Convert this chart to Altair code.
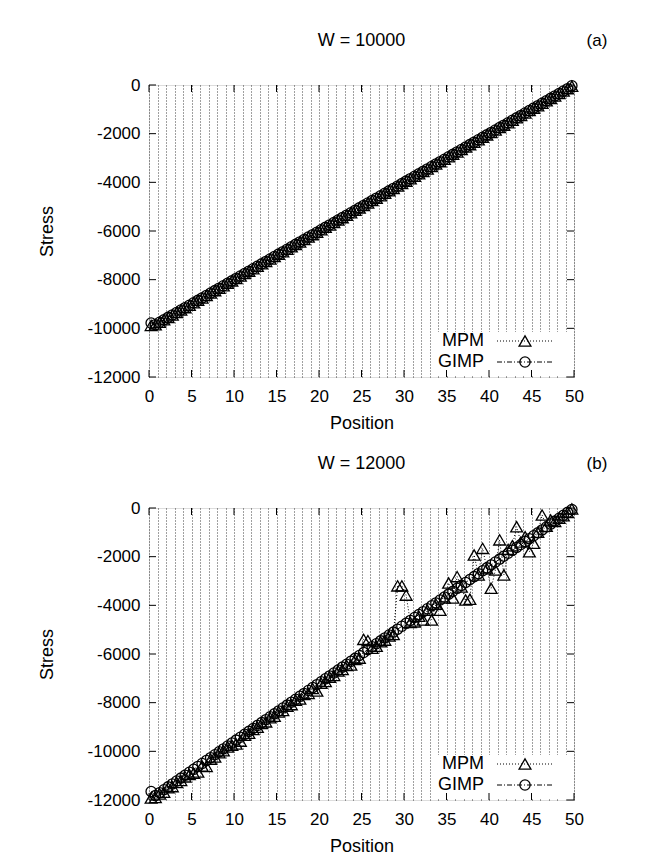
import altair as alt
import pandas as pd

positions = [0.25, 0.75, 1.25, 1.75, 2.25, 2.75, 3.25, 3.75, 4.25, 4.75,
             5.25, 5.75, 6.25, 6.75, 7.25, 7.75, 8.25, 8.75, 9.25, 9.75,
             10.25, 10.75, 11.25, 11.75, 12.25, 12.75, 13.25, 13.75, 14.25, 14.75,
             15.25, 15.75, 16.25, 16.75, 17.25, 17.75, 18.25, 18.75, 19.25, 19.75,
             20.25, 20.75, 21.25, 21.75, 22.25, 22.75, 23.25, 23.75, 24.25, 24.75,
             25.25, 25.75, 26.25, 26.75, 27.25, 27.75, 28.25, 28.75, 29.25, 29.75,
             30.25, 30.75, 31.25, 31.75, 32.25, 32.75, 33.25, 33.75, 34.25, 34.75,
             35.25, 35.75, 36.25, 36.75, 37.25, 37.75, 38.25, 38.75, 39.25, 39.75,
             40.25, 40.75, 41.25, 41.75, 42.25, 42.75, 43.25, 43.75, 44.25, 44.75,
             45.25, 45.75, 46.25, 46.75, 47.25, 47.75, 48.25, 48.75, 49.25, 49.75]

mpm_a = [-9880, -9850, -9750, -9650, -9550, -9450, -9350, -9250, -9150, -9050,
         -8950, -8850, -8750, -8650, -8550, -8450, -8350, -8250, -8150, -8050,
         -7950, -7850, -7750, -7650, -7550, -7450, -7350, -7250, -7150, -7050,
         -6950, -6850, -6750, -6650, -6550, -6450, -6350, -6250, -6150, -6050,
         -5950, -5850, -5750, -5650, -5550, -5450, -5350, -5250, -5150, -5050,
         -4950, -4850, -4750, -4650, -4550, -4450, -4350, -4250, -4150, -4050,
         -3950, -3850, -3750, -3650, -3550, -3450, -3350, -3250, -3150, -3050,
         -2950, -2850, -2750, -2650, -2550, -2450, -2350, -2250, -2150, -2050,
         -1950, -1850, -1750, -1650, -1550, -1450, -1350, -1250, -1150, -1050,
         -950, -850, -750, -650, -550, -450, -350, -250, -150, -50]

gimp_a = [-9780, -9850, -9750, -9650, -9550, -9450, -9350, -9250, -9150, -9050,
          -8950, -8850, -8750, -8650, -8550, -8450, -8350, -8250, -8150, -8050,
          -7950, -7850, -7750, -7650, -7550, -7450, -7350, -7250, -7150, -7050,
          -6950, -6850, -6750, -6650, -6550, -6450, -6350, -6250, -6150, -6050,
          -5950, -5850, -5750, -5650, -5550, -5450, -5350, -5250, -5150, -5050,
          -4950, -4850, -4750, -4650, -4550, -4450, -4350, -4250, -4150, -4050,
          -3950, -3850, -3750, -3650, -3550, -3450, -3350, -3250, -3150, -3050,
          -2950, -2850, -2750, -2650, -2550, -2450, -2350, -2250, -2150, -2050,
          -1950, -1850, -1750, -1650, -1550, -1450, -1350, -1250, -1150, -1050,
          -950, -850, -750, -650, -550, -450, -350, -250, -150, -30]

mpm_b = [-11920, -11900, -11750, -11680, -11500, -11450, -11280, -11200, -11050, -10950,
         -10900, -10850, -10600, -10620, -10320, -10230, -10060, -9980, -9820, -9750,
         -9700, -9580, -9340, -9260, -9100, -9010, -8860, -8790, -8620, -8560,
         -8380, -8320, -8150, -8080, -7900, -7850, -7660, -7620, -7420, -7520,
         -7200, -7130, -6950, -6880, -6700, -6640, -6470, -6450, -6230, -6170,
         -5400, -5450, -5760, -5680, -5500, -5430, -5260, -5200, -3200, -3200,
         -3580, -4700, -4680, -4450, -4600, -4200, -4600, -3950, -4200, -3700,
         -3080, -3700, -2820, -3250, -3780, -3750, -1930, -2750, -1660, -2500,
         -3300, -2550, -1310, -2750, -1700, -1550, -770, -1400, -1180, -1800,
         -1450, -1000, -290, -750, -490, -550, -420, -320, -180, -40]

gimp_b = [-11650, -11820, -11700, -11580, -11460, -11340, -11220, -11100, -10980, -10860,
          -10740, -10620, -10500, -10380, -10260, -10140, -10020, -9900, -9780, -9660,
          -9540, -9420, -9300, -9180, -9060, -8940, -8820, -8700, -8580, -8460,
          -8340, -8220, -8100, -7980, -7860, -7740, -7620, -7500, -7380, -7260,
          -7140, -7020, -6900, -6780, -6660, -6540, -6420, -6300, -6180, -6060,
          -5940, -5820, -5700, -5580, -5460, -5340, -5220, -5100, -4980, -4860,
          -4740, -4620, -4500, -4380, -4260, -4140, -4020, -3900, -3780, -3660,
          -3540, -3420, -3300, -3180, -3060, -2940, -2820, -2700, -2580, -2460,
          -2340, -2220, -2100, -1980, -1860, -1740, -1620, -1500, -1380, -1260,
          -1140, -1020, -900, -780, -660, -540, -420, -300, -180, -60]

y_ticks = [-12000, -10000, -8000, -6000, -4000, -2000, 0]
x_ticks = [0, 5, 10, 15, 20, 25, 30, 35, 40, 45, 50]
x_grid = list(range(0, 51))
legend_labels = ["MPM", "GIMP"]

FONT = "Liberation Sans"
W, H = 425, 292
LBL = 17
TTL = 18


def panel(mpm, gimp, title, tag):
    df = pd.DataFrame({
        "pos": positions + positions,
        "stress": mpm + gimp,
        "method": ["MPM"] * len(mpm) + ["GIMP"] * len(gimp),
    })
    xs = alt.Scale(domain=[0, 50], nice=False, zero=False)
    ys = alt.Scale(domain=[-12000, 0], nice=False, zero=False)
    xenc = alt.X("pos:Q", scale=xs, title="Position",
                 axis=alt.Axis(values=x_grid,
                               labelExpr="datum.value % 5 == 0 ? format(datum.value, 'd') : ''",
                               grid=True, gridDash=[1, 2], gridColor="#000000",
                               gridOpacity=0.75, gridWidth=1, tickSize=0, domain=False,
                               labelPadding=11, labelFontSize=LBL, labelFont=FONT,
                               labelColor="#000000", labelOverlap=False, labelFlush=False,
                               titleFont=FONT, titleFontSize=TTL, titleFontWeight="normal",
                               titleColor="#000000", titlePadding=10))
    yenc = alt.Y("stress:Q", scale=ys, title="Stress",
                 axis=alt.Axis(values=y_ticks, grid=False, tickSize=0, domain=False,
                               labelExpr="datum.value == 0 ? '0' : '-' + format(-datum.value, 'd')",
                               labelPadding=9, labelFontSize=LBL, labelFont=FONT,
                               labelColor="#000000", labelFlush=False, labelOverlap=False,
                               titleFont=FONT, titleFontSize=TTL, titleFontWeight="normal",
                               titleColor="#000000", titlePadding=31))

    base = alt.Chart(df)
    mpm_line = base.transform_filter("datum.method == 'MPM'").mark_line(
        color="#000000", strokeWidth=1, strokeDash=[1, 2]).encode(x=xenc, y=yenc)
    mpm_pts = base.transform_filter("datum.method == 'MPM'").mark_point(
        shape="triangle-up", filled=False, size=140, color="#000000",
        strokeWidth=1.3, opacity=1).encode(x=xenc, y=yenc)
    gimp_line = base.transform_filter("datum.method == 'GIMP'").mark_line(
        color="#000000", strokeWidth=1, strokeDash=[5, 2, 1, 2]).encode(x=xenc, y=yenc)
    gimp_pts = base.transform_filter("datum.method == 'GIMP'").mark_point(
        shape="circle", filled=False, size=105, color="#000000",
        strokeWidth=1.3, opacity=1).encode(x=xenc, y=yenc)

    ydf = pd.DataFrame({"stress": y_ticks})
    xdf = pd.DataFrame({"pos": x_ticks})
    tick_l = alt.Chart(ydf).mark_rule(color="#000000", strokeWidth=1).encode(
        y=yenc, x=alt.value(0), x2=alt.value(7))
    tick_r = alt.Chart(ydf).mark_rule(color="#000000", strokeWidth=1).encode(
        y=yenc, x=alt.value(W - 7), x2=alt.value(W))
    tick_t = alt.Chart(xdf).mark_rule(color="#000000", strokeWidth=1).encode(
        x=xenc, y=alt.value(0), y2=alt.value(7))
    tick_b = alt.Chart(xdf).mark_rule(color="#000000", strokeWidth=1).encode(
        x=xenc, y=alt.value(H - 7), y2=alt.value(H))

    one = pd.DataFrame({"label": [legend_labels[0]]})
    two = pd.DataFrame({"label": [legend_labels[1]]})
    box = alt.Chart(one).mark_rect(color="#ffffff").encode(
        x=alt.value(288), x2=alt.value(W - 1), y=alt.value(247), y2=alt.value(H - 1))
    t1 = alt.Chart(one).mark_text(align="right", baseline="middle", font=FONT,
                                  fontSize=TTL, color="#000000").encode(
        text="label:N", x=alt.value(335), y=alt.value(256))
    t2 = alt.Chart(two).mark_text(align="right", baseline="middle", font=FONT,
                                  fontSize=TTL, color="#000000").encode(
        text="label:N", x=alt.value(335), y=alt.value(277))
    l1 = alt.Chart(one).mark_rule(color="#000000", strokeWidth=1, strokeDash=[1, 2]).encode(
        x=alt.value(348), x2=alt.value(405), y=alt.value(256))
    l2 = alt.Chart(two).mark_rule(color="#000000", strokeWidth=1, strokeDash=[5, 2, 1, 2]).encode(
        x=alt.value(348), x2=alt.value(405), y=alt.value(277))
    p1 = alt.Chart(one).mark_point(shape="triangle-up", filled=False, size=140,
                                   color="#000000", strokeWidth=1.3, opacity=1).encode(
        x=alt.value(376), y=alt.value(256))
    p2 = alt.Chart(two).mark_point(shape="circle", filled=False, size=105,
                                   color="#000000", strokeWidth=1.3, opacity=1).encode(
        x=alt.value(376), y=alt.value(277))

    tdf = pd.DataFrame({"title": [title], "tag": [tag]})
    title_txt = alt.Chart(tdf).mark_text(align="center", baseline="middle", font=FONT,
                                         fontSize=TTL, color="#000000").encode(
        text="title:N", x=alt.value(W / 2), y=alt.value(-44))
    tag_txt = alt.Chart(tdf).mark_text(align="center", baseline="middle", font=FONT,
                                       fontSize=LBL, color="#000000").encode(
        text="tag:N", x=alt.value(448), y=alt.value(-44))

    return alt.layer(mpm_line, mpm_pts, gimp_line, gimp_pts, box, tick_l, tick_r,
                     tick_t, tick_b, t1, t2, l1, l2, p1, p2, title_txt, tag_txt).properties(
        width=W, height=H)


pa = panel(mpm_a, gimp_a, "W = 10000", "(a)")
pb = panel(mpm_b, gimp_b, "W = 12000", "(b)")

chart = alt.vconcat(pa, pb, spacing=21).properties(
    padding={"left": 29, "top": 23, "right": 5, "bottom": 5}
).configure_view(stroke="#000000", strokeWidth=1.5).configure(background="#ffffff")

chart.save("out.html", embed_options={"renderer": "svg", "actions": False})
